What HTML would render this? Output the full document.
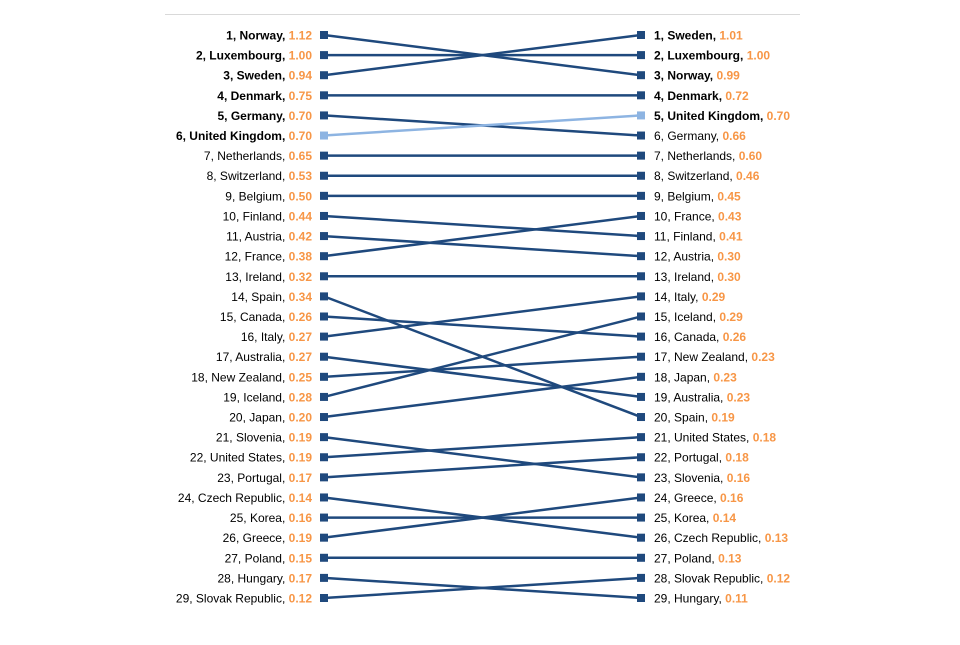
<!DOCTYPE html>
<html><head><meta charset="utf-8"><style>
body{margin:0;background:#fff;}
svg text{font-family:"Liberation Sans",Arial,sans-serif;font-size:12px;}
</style></head><body>
<svg id="chart" width="960" height="640" xmlns="http://www.w3.org/2000/svg">
<line x1="165" y1="14.5" x2="800" y2="14.5" stroke="#d9d9d9" stroke-width="1"/>
<g id="lines"></g><g id="marks"></g><g id="labels"></g>
</svg>
<script>
const leftNames=["Norway","Luxembourg","Sweden","Denmark","Germany","United Kingdom","Netherlands","Switzerland","Belgium","Finland","Austria","France","Ireland","Spain","Canada","Italy","Australia","New Zealand","Iceland","Japan","Slovenia","United States","Portugal","Czech Republic","Korea","Greece","Poland","Hungary","Slovak Republic"];
const leftValues=["1.12","1.00","0.94","0.75","0.70","0.70","0.65","0.53","0.50","0.44","0.42","0.38","0.32","0.34","0.26","0.27","0.27","0.25","0.28","0.20","0.19","0.19","0.17","0.14","0.16","0.19","0.15","0.17","0.12"];
const rightNames=["Sweden","Luxembourg","Norway","Denmark","United Kingdom","Germany","Netherlands","Switzerland","Belgium","France","Finland","Austria","Ireland","Italy","Iceland","Canada","New Zealand","Japan","Australia","Spain","United States","Portugal","Slovenia","Greece","Korea","Czech Republic","Poland","Slovak Republic","Hungary"];
const rightValues=["1.01","1.00","0.99","0.72","0.70","0.66","0.60","0.46","0.45","0.43","0.41","0.30","0.30","0.29","0.29","0.26","0.23","0.23","0.23","0.19","0.18","0.18","0.16","0.16","0.14","0.13","0.13","0.12","0.11"];
const leftBold=6, rightBold=5, highlight="United Kingdom";
const NS="http://www.w3.org/2000/svg";
const xL=324, xR=641, y0=35, step=20.107;
const yPos=i=>y0+i*step;
const gl=document.getElementById('lines'),gm=document.getElementById('marks'),gt=document.getElementById('labels');
function mk(t,a){const e=document.createElementNS(NS,t);for(const k in a)e.setAttribute(k,a[k]);return e;}
leftNames.forEach((n,i)=>{
  const j=rightNames.indexOf(n);
  const col=n===highlight?"#8db4e2":"#1f497d";
  const l=mk('line',{x1:xL,y1:yPos(i),x2:xR,y2:yPos(j),stroke:col,'stroke-width':2.5});
  
  
  gl.appendChild(l);
});
function side(names,vals,x,bold,left){
  names.forEach((n,i)=>{
    const y=yPos(i);const col=n===highlight?"#8db4e2":"#1f497d";
    const r=mk('rect',{x:x-4,y:y-4,width:8,height:8,fill:col});
    
    
    gm.appendChild(r);
    const t=mk('text',{x:left?x-12:x+13,y:y+4.5,'text-anchor':left?'end':'start'});
    
    
    const a=mk('tspan',{fill:'#000','font-weight':i<bold?'bold':'normal'});
    a.textContent=(i+1)+', '+n+', ';
    const b=mk('tspan',{fill:'#f79646','font-weight':'bold'});
    b.textContent=vals[i];
    t.appendChild(a);t.appendChild(b);gt.appendChild(t);
  });
}
side(leftNames,leftValues,xL,leftBold,true);
side(rightNames,rightValues,xR,rightBold,false);
</script>
</body></html>
